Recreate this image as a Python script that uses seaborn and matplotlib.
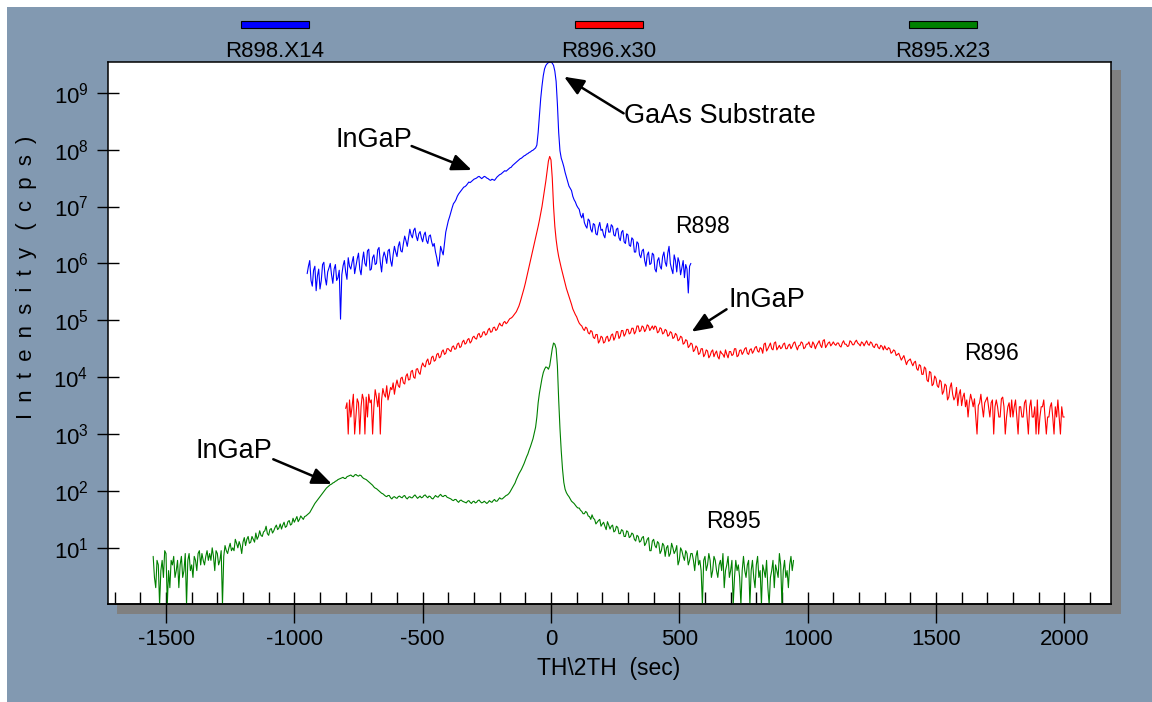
import numpy as np
import pandas as pd
import matplotlib
matplotlib.use("Agg")
import matplotlib.pyplot as plt
from matplotlib.patches import Rectangle
from matplotlib.ticker import MultipleLocator, NullLocator, LogLocator
import seaborn as sns

# ---- rocking-curve scans: angle range (sec, 5 s steps) and log10 intensity (cps) ----
r898_range = (-950, 545)
r898_log = [
    5.82, 5.95, 6.05, 5.70, 5.60, 5.88, 5.95, 5.52, 5.78, 5.90, 5.55, 5.70, 5.98, 6.02, 5.75, 5.62, 5.85, 5.92, 6.00, 5.80,
    5.65, 5.90, 5.98, 5.70, 5.75, 5.88, 5.02, 5.80, 5.96, 6.05, 5.85, 5.72, 6.10, 5.95, 5.90, 6.02, 6.12, 5.82, 5.95, 6.08,
    6.18, 5.90, 5.80, 6.05, 6.20, 6.00, 5.95, 6.22, 6.25, 5.88, 5.90, 6.10, 6.15, 5.98, 6.00, 6.24, 6.28, 6.02, 5.85, 6.10,
    6.20, 6.12, 6.00, 6.22, 6.25, 6.05, 5.95, 6.15, 6.30, 6.20, 6.12, 6.30, 6.38, 6.22, 6.20, 6.35, 6.48, 6.40, 6.30, 6.45,
    6.60, 6.50, 6.45, 6.58, 6.62, 6.48, 6.40, 6.52, 6.56, 6.45, 6.38, 6.50, 6.55, 6.40, 6.35, 6.48, 6.50, 6.38, 6.30, 6.35,
    6.20, 6.10, 5.95, 6.05, 6.30, 6.22, 6.15, 6.35, 6.55, 6.65, 6.75, 6.82, 6.90, 6.98, 7.05, 7.08, 7.12, 7.18, 7.22, 7.25,
    7.28, 7.31, 7.34, 7.35, 7.37, 7.40, 7.43, 7.42, 7.44, 7.46, 7.48, 7.49, 7.50, 7.52, 7.53, 7.51, 7.49, 7.51, 7.53, 7.52,
    7.50, 7.49, 7.47, 7.46, 7.48, 7.47, 7.46, 7.49, 7.52, 7.54, 7.56, 7.57, 7.59, 7.61, 7.63, 7.62, 7.64, 7.66, 7.68, 7.69,
    7.72, 7.74, 7.76, 7.78, 7.80, 7.82, 7.84, 7.85, 7.87, 7.89, 7.90, 7.92, 7.93, 7.95, 7.96, 7.98, 7.99, 8.01, 8.03, 8.08,
    8.30, 8.60, 8.90, 9.12, 9.30, 9.42, 9.48, 9.51, 9.53, 9.54, 9.54, 9.52, 9.48, 9.38, 9.20, 8.80, 8.30, 7.98, 7.85, 7.78,
    7.70, 7.60, 7.52, 7.44, 7.36, 7.32, 7.28, 7.18, 7.12, 7.08, 7.02, 6.98, 6.95, 6.85, 6.80, 6.88, 6.72, 6.66, 6.62, 6.78,
    6.75, 6.60, 6.55, 6.70, 6.68, 6.52, 6.50, 6.64, 6.72, 6.58, 6.60, 6.50, 6.45, 6.62, 6.70, 6.55, 6.55, 6.68, 6.65, 6.50,
    6.48, 6.60, 6.62, 6.45, 6.40, 6.55, 6.58, 6.38, 6.35, 6.52, 6.50, 6.32, 6.30, 6.45, 6.42, 6.20, 6.20, 6.38, 6.35, 6.15,
    6.10, 6.22, 6.25, 6.05, 5.95, 6.15, 6.20, 5.98, 6.00, 6.18, 6.15, 5.90, 5.85, 6.05, 6.10, 5.95, 5.90, 6.12, 6.20, 6.02,
    5.95, 6.18, 6.30, 6.00, 5.90, 5.82, 6.15, 6.05, 5.85, 6.10, 6.02, 5.80, 5.92, 6.05, 5.75, 5.98, 5.90, 5.48, 5.95, 6.00,
]

r896_range = (-800, 2000)
r896_log = [
    3.45, 3.55, 3.00, 3.60, 3.30, 3.48, 3.70, 3.00, 3.30, 3.62, 3.55, 3.00, 3.48, 3.70, 3.60, 3.00, 3.65, 3.30, 3.70, 3.55,
    3.60, 3.00, 3.48, 3.78, 3.65, 3.48, 3.72, 3.00, 3.60, 3.80, 3.70, 3.65, 3.85, 3.60, 3.70, 3.82, 3.78, 3.90, 3.70, 3.85,
    3.95, 3.85, 3.82, 3.98, 4.00, 3.90, 3.88, 4.02, 4.06, 3.95, 3.96, 4.10, 4.12, 4.00, 3.98, 4.14, 4.15, 4.08, 4.05, 4.18,
    4.25, 4.20, 4.18, 4.28, 4.32, 4.22, 4.24, 4.35, 4.37, 4.28, 4.30, 4.40, 4.42, 4.34, 4.36, 4.45, 4.48, 4.40, 4.42, 4.50,
    4.50, 4.47, 4.45, 4.53, 4.55, 4.49, 4.50, 4.58, 4.60, 4.52, 4.54, 4.62, 4.65, 4.58, 4.60, 4.66, 4.68, 4.60, 4.63, 4.70,
    4.72, 4.68, 4.67, 4.75, 4.77, 4.70, 4.72, 4.79, 4.80, 4.74, 4.76, 4.83, 4.86, 4.79, 4.80, 4.87, 4.88, 4.82, 4.84, 4.90,
    4.95, 4.91, 4.90, 4.96, 4.98, 4.94, 4.96, 5.00, 5.03, 5.04, 5.06, 5.09, 5.12, 5.15, 5.20, 5.25, 5.32, 5.40, 5.48, 5.56,
    5.65, 5.75, 5.85, 5.95, 6.05, 6.15, 6.25, 6.35, 6.45, 6.55, 6.65, 6.76, 6.88, 7.00, 7.15, 7.30, 7.45, 7.62, 7.80, 7.88,
    7.82, 7.50, 7.00, 6.65, 6.42, 6.25, 6.12, 6.02, 5.92, 5.83, 5.74, 5.65, 5.56, 5.49, 5.42, 5.35, 5.28, 5.20, 5.15, 5.10,
    5.06, 5.00, 4.95, 4.92, 4.90, 4.85, 4.82, 4.88, 4.86, 4.78, 4.76, 4.82, 4.80, 4.70, 4.68, 4.75, 4.75, 4.60, 4.64, 4.72,
    4.70, 4.60, 4.62, 4.70, 4.72, 4.63, 4.66, 4.74, 4.76, 4.65, 4.70, 4.80, 4.80, 4.68, 4.72, 4.82, 4.82, 4.72, 4.76, 4.84,
    4.84, 4.76, 4.78, 4.86, 4.86, 4.76, 4.80, 4.90, 4.90, 4.80, 4.82, 4.90, 4.88, 4.80, 4.84, 4.92, 4.90, 4.82, 4.86, 4.90,
    4.84, 4.90, 4.88, 4.78, 4.80, 4.87, 4.85, 4.76, 4.78, 4.84, 4.82, 4.72, 4.74, 4.80, 4.78, 4.68, 4.70, 4.77, 4.74, 4.64,
    4.66, 4.72, 4.70, 4.58, 4.60, 4.66, 4.64, 4.52, 4.55, 4.60, 4.58, 4.45, 4.48, 4.55, 4.52, 4.40, 4.42, 4.50, 4.50, 4.36,
    4.40, 4.48, 4.46, 4.34, 4.38, 4.45, 4.48, 4.36, 4.42, 4.46, 4.36, 4.32, 4.46, 4.42, 4.40, 4.35, 4.48, 4.40, 4.34, 4.45,
    4.45, 4.38, 4.40, 4.50, 4.50, 4.36, 4.38, 4.47, 4.48, 4.40, 4.44, 4.50, 4.52, 4.42, 4.40, 4.48, 4.50, 4.42, 4.46, 4.52,
    4.54, 4.46, 4.44, 4.52, 4.50, 4.42, 4.58, 4.60, 4.46, 4.50, 4.55, 4.60, 4.50, 4.48, 4.60, 4.62, 4.48, 4.52, 4.56, 4.50,
    4.52, 4.58, 4.60, 4.50, 4.50, 4.56, 4.58, 4.50, 4.54, 4.60, 4.62, 4.54, 4.48, 4.55, 4.56, 4.62, 4.60, 4.50, 4.52, 4.58,
    4.58, 4.62, 4.54, 4.52, 4.62, 4.58, 4.50, 4.56, 4.60, 4.64, 4.56, 4.52, 4.64, 4.66, 4.52, 4.56, 4.60, 4.62, 4.55, 4.58,
    4.62, 4.58, 4.56, 4.60, 4.60, 4.55, 4.53, 4.60, 4.64, 4.58, 4.58, 4.54, 4.55, 4.64, 4.62, 4.57, 4.57, 4.62, 4.65, 4.60,
    4.58, 4.55, 4.62, 4.60, 4.55, 4.60, 4.64, 4.58, 4.56, 4.62, 4.60, 4.54, 4.52, 4.58, 4.58, 4.52, 4.50, 4.56, 4.54, 4.48,
    4.55, 4.50, 4.48, 4.52, 4.50, 4.42, 4.44, 4.48, 4.46, 4.38, 4.40, 4.42, 4.36, 4.30, 4.34, 4.38, 4.30, 4.22, 4.28, 4.30,
    4.32, 4.25, 4.20, 4.26, 4.28, 4.15, 4.12, 4.22, 4.20, 4.05, 4.05, 4.18, 4.15, 3.95, 3.92, 4.10, 4.08, 3.85, 3.88, 4.02,
    3.98, 3.85, 3.82, 3.95, 3.92, 3.70, 3.75, 3.88, 3.85, 3.60, 3.65, 3.82, 3.90, 3.70, 3.60, 3.65, 3.82, 3.50, 3.70, 3.78,
    3.50, 3.65, 3.72, 3.48, 3.60, 3.30, 3.55, 3.70, 3.60, 3.48, 3.62, 3.30, 3.00, 3.50, 3.55, 3.70, 3.48, 3.30, 3.55, 3.60,
    3.65, 3.48, 3.30, 3.55, 3.60, 3.00, 3.48, 3.60, 3.48, 3.30, 3.30, 3.62, 3.65, 3.48, 3.00, 3.30, 3.48, 3.55, 3.30, 3.60,
    3.30, 3.48, 3.60, 3.30, 3.00, 3.48, 3.48, 3.30, 3.30, 3.55, 3.60, 3.30, 3.00, 3.48, 3.60, 3.30, 3.30, 3.48, 3.00, 3.60,
    3.00, 3.30, 3.48, 3.48, 3.60, 3.30, 3.00, 3.30, 3.30, 3.48, 3.55, 3.30, 3.00, 3.48, 3.30, 3.60, 3.30, 3.00, 3.48, 3.30,
    3.30,
]

r895_range = (-1550, 945)
r895_log = [
    0.85, 0.48, 0.30, 0.78, 0.70, 0.00, 0.60, 0.78, 0.48, 0.95, 0.90, 0.00, 0.60, 0.30, 0.78, 0.70, 0.85, 0.48, 0.60, 0.78,
    0.30, 0.70, 0.85, 0.48, 0.60, 0.90, 0.00, 0.78, 0.90, 0.60, 0.70, 0.48, 0.85, 0.78, 0.60, 0.90, 0.95, 0.70, 0.90, 0.78,
    0.70, 0.85, 0.95, 0.78, 0.90, 0.78, 1.00, 0.85, 0.60, 0.95, 0.90, 0.70, 0.78, 0.95, 0.00, 0.85, 1.04, 0.95, 0.90, 1.00,
    1.08, 0.95, 1.00, 0.95, 1.15, 1.08, 1.00, 1.11, 1.04, 0.90, 1.10, 1.18, 1.04, 1.15, 1.20, 1.08, 1.10, 1.20, 1.15, 1.10,
    1.26, 1.15, 1.20, 1.30, 1.22, 1.20, 1.28, 1.30, 1.38, 1.25, 1.22, 1.32, 1.34, 1.26, 1.30, 1.36, 1.40, 1.32, 1.35, 1.42,
    1.33, 1.40, 1.45, 1.36, 1.38, 1.46, 1.48, 1.40, 1.42, 1.52, 1.45, 1.50, 1.55, 1.46, 1.50, 1.56, 1.53, 1.50, 1.55, 1.56,
    1.58, 1.60, 1.62, 1.66, 1.70, 1.74, 1.78, 1.81, 1.84, 1.87, 1.90, 1.93, 1.96, 1.99, 2.02, 2.05, 2.07, 2.09, 2.11, 2.12,
    2.14, 2.15, 2.17, 2.18, 2.20, 2.21, 2.22, 2.23, 2.24, 2.22, 2.22, 2.25, 2.26, 2.27, 2.28, 2.26, 2.25, 2.28, 2.29, 2.27,
    2.26, 2.28, 2.27, 2.24, 2.22, 2.21, 2.20, 2.18, 2.16, 2.14, 2.12, 2.10, 2.07, 2.05, 2.04, 2.02, 2.00, 1.98, 1.96, 1.95,
    1.93, 1.91, 1.90, 1.92, 1.92, 1.88, 1.86, 1.89, 1.90, 1.88, 1.87, 1.90, 1.91, 1.89, 1.88, 1.91, 1.92, 1.88, 1.86, 1.89,
    1.90, 1.88, 1.88, 1.91, 1.93, 1.90, 1.87, 1.89, 1.91, 1.88, 1.89, 1.92, 1.93, 1.90, 1.88, 1.91, 1.90, 1.87, 1.86, 1.89,
    1.92, 1.90, 1.89, 1.92, 1.94, 1.91, 1.90, 1.92, 1.92, 1.89, 1.88, 1.87, 1.86, 1.84, 1.83, 1.85, 1.85, 1.82, 1.80, 1.83,
    1.84, 1.82, 1.81, 1.80, 1.79, 1.82, 1.83, 1.80, 1.78, 1.81, 1.82, 1.79, 1.80, 1.83, 1.84, 1.81, 1.79, 1.80, 1.82, 1.80,
    1.78, 1.80, 1.83, 1.81, 1.80, 1.83, 1.85, 1.82, 1.82, 1.85, 1.88, 1.86, 1.86, 1.88, 1.90, 1.92, 1.93, 1.95, 1.98, 2.02,
    2.06, 2.10, 2.14, 2.20, 2.25, 2.30, 2.34, 2.38, 2.43, 2.48, 2.54, 2.60, 2.65, 2.72, 2.78, 2.85, 2.92, 3.02, 3.12, 3.30,
    3.55, 3.72, 3.85, 3.98, 4.08, 4.14, 4.18, 4.17, 4.14, 4.20, 4.35, 4.50, 4.60, 4.58, 4.50, 4.20, 3.60, 3.10, 2.70, 2.38,
    2.15, 2.03, 1.97, 1.93, 1.90, 1.86, 1.82, 1.80, 1.78, 1.75, 1.72, 1.70, 1.70, 1.66, 1.64, 1.60, 1.60, 1.64, 1.62, 1.56,
    1.55, 1.50, 1.58, 1.52, 1.50, 1.42, 1.45, 1.48, 1.50, 1.38, 1.42, 1.45, 1.38, 1.32, 1.46, 1.40, 1.33, 1.38, 1.40, 1.28,
    1.30, 1.38, 1.36, 1.25, 1.25, 1.32, 1.30, 1.20, 1.20, 1.30, 1.28, 1.18, 1.20, 1.26, 1.24, 1.15, 1.12, 1.22, 1.20, 1.10,
    1.12, 1.18, 1.20, 1.04, 1.08, 1.15, 1.18, 0.95, 0.95, 1.12, 1.15, 1.04, 1.00, 1.11, 1.08, 0.90, 0.95, 1.08, 1.04, 0.85,
    1.00, 1.04, 0.85, 0.90, 1.08, 1.00, 0.90, 0.95, 1.04, 0.70, 0.78, 1.00, 0.95, 0.85, 0.78, 0.95, 0.90, 0.70, 0.78, 0.90,
    0.90, 0.78, 0.60, 0.85, 0.95, 0.70, 0.78, 0.60, 0.00, 0.78, 0.85, 0.60, 0.70, 0.90, 0.78, 0.48, 0.60, 0.85, 0.78, 0.60,
    0.48, 0.70, 0.78, 0.60, 0.90, 0.30, 0.60, 0.70, 0.85, 0.48, 0.60, 0.78, 0.00, 0.48, 0.78, 0.60, 0.70, 0.48, 0.00, 0.60,
    0.85, 0.60, 0.48, 0.70, 0.78, 0.00, 0.60, 0.78, 0.48, 0.30, 0.70, 0.85, 0.48, 0.60, 0.00, 0.70, 0.60, 0.48, 0.78, 0.30,
    0.00, 0.48, 0.60, 0.78, 0.30, 0.70, 0.60, 0.48, 0.90, 0.70, 0.00, 0.60, 0.78, 0.48, 0.60, 0.30, 0.70, 0.85, 0.60, 0.78,
]

samples = ["R898", "R896", "R895"]
legend_labels = ["R898.X14", "R896.x30", "R895.x23"]
colors = ["#0000ff", "#ff0000", "#008000"]
x_ticks = [-1500, -1000, -500, 0, 500, 1000, 1500, 2000]

# ---- long-form table for seaborn ----
frames = []
for name, (x0, x1), vals in [
    ("R898", r898_range, r898_log),
    ("R896", r896_range, r896_log),
    ("R895", r895_range, r895_log),
]:
    sec = np.linspace(x0, x1, len(vals))
    frames.append(pd.DataFrame({"sec": sec, "cps": 10.0 ** np.asarray(vals), "sample": name}))
df = pd.concat(frames, ignore_index=True)

# ---- style ----
sns.set_theme(style="white")
plt.rcParams["font.family"] = ["Liberation Sans", "DejaVu Sans"]
plt.rcParams["axes.unicode_minus"] = False
for key in ["text.color", "axes.labelcolor", "xtick.color", "ytick.color", "axes.edgecolor"]:
    plt.rcParams[key] = "black"

W, H = 1152, 702
def fx(px):
    return px / W
def fy(py):
    return 1 - py / H

fig = plt.figure(figsize=(W / 100, H / 100), dpi=100, facecolor="white")
# slate background panel and drop shadow behind the plot box
fig.patches.append(Rectangle((fx(7), 0), 1 - fx(7), fy(7), transform=fig.transFigure,
                             facecolor="#8299b1", edgecolor="none", zorder=-3))
fig.patches.append(Rectangle((fx(117), fy(614)), 1004 / W, 544 / H, transform=fig.transFigure,
                             facecolor="#808080", edgecolor="none", zorder=-2))

ax = fig.add_axes([fx(108), fy(604), (1111 - 108) / W, (604 - 62) / H])
ax.set_facecolor("white")

sns.lineplot(data=df, x="sec", y="cps", hue="sample", hue_order=samples,
             palette=dict(zip(samples, colors)), estimator=None, sort=False,
             legend=False, lw=0.8, ax=ax)

ax.set_yscale("log")
ax.set_xlim(-1726, 2182)
ax.set_ylim(1.03, 3.47e9)
ax.set_xlabel("")
ax.set_ylabel("")

for sp in ax.spines.values():
    sp.set_color("black")
    sp.set_linewidth(1.1)

# y axis: decades, ticks crossing the spine
ax.yaxis.set_major_locator(LogLocator(base=10, numticks=15))
ax.yaxis.set_minor_locator(NullLocator())
ax.tick_params(axis="y", which="major", direction="inout", length=16, width=1.0,
               labelsize=16, pad=6, left=True)

# x axis: inner ticks every 100 s, labelled outer ticks every 500 s
ax.xaxis.set_major_locator(MultipleLocator(500))
ax.xaxis.set_minor_locator(MultipleLocator(100))
ax.tick_params(axis="x", which="both", direction="in", length=8.6, width=1.0,
               labelbottom=False, bottom=True)
secx = ax.secondary_xaxis("bottom")
secx.set_xticks(x_ticks)
secx.xaxis.set_minor_locator(NullLocator())
secx.tick_params(axis="x", which="major", direction="out", length=13.7, width=1.0,
                 labelsize=16, pad=4)
secx.spines["bottom"].set_linewidth(1.1)

# axis titles
fig.text(fx(27), fy(277), "I\u2002n\u2002t\u2002e\u2002n\u2002s\u2002i\u2002t\u2002y\u2002 (\u2002c\u2002p\u2002s\u2002)",
         rotation=90, ha="center", va="center", fontsize=16)
fig.text(fx(609), fy(668), "TH\\2TH  (sec)", ha="center", va="center", fontsize=16.5)

# colour key along the top
for cx, col, lab in zip([275, 608.5, 943], colors, legend_labels):
    fig.patches.append(Rectangle((fx(cx - 34), fy(28)), 68 / W, 7 / H, transform=fig.transFigure,
                                 facecolor=col, edgecolor="black", lw=0.8))
    fig.text(fx(cx), fy(57.3), lab, ha="center", va="baseline", fontsize=16)

# peak annotations
arrow = dict(arrowstyle="-|>,head_length=0.6,head_width=0.25", mutation_scale=20,
             lw=1.8, color="black", shrinkA=0, shrinkB=0)
ax.text(284, 10 ** 8.462, "GaAs Substrate", fontsize=19.5, ha="left", va="baseline")
ax.annotate("", xy=(51, 10 ** 9.281), xytext=(283, 10 ** 8.638), arrowprops=arrow)

ax.text(-841, 10 ** 8.051, "InGaP", fontsize=19.5, ha="left", va="baseline")
ax.annotate("", xy=(-309, 10 ** 7.642), xytext=(-543, 10 ** 8.063), arrowprops=arrow)

ax.text(693, 10 ** 5.239, "InGaP", fontsize=19.5, ha="left", va="baseline")
ax.annotate("", xy=(548, 10 ** 4.80), xytext=(684, 10 ** 5.193), arrowprops=arrow)

ax.text(-1384, 10 ** 2.575, "InGaP", fontsize=19.5, ha="left", va="baseline")
ax.annotate("", xy=(-854, 10 ** 2.123), xytext=(-1082, 10 ** 2.557), arrowprops=arrow)

# sample names
ax.text(483, 10 ** 6.529, "R898", fontsize=16.5, ha="left", va="baseline")
ax.text(1609, 10 ** 4.302, "R896", fontsize=16.5, ha="left", va="baseline")
ax.text(604, 10 ** 1.344, "R895", fontsize=16.5, ha="left", va="baseline")

fig.savefig("out.png", dpi=100, facecolor=fig.get_facecolor())
